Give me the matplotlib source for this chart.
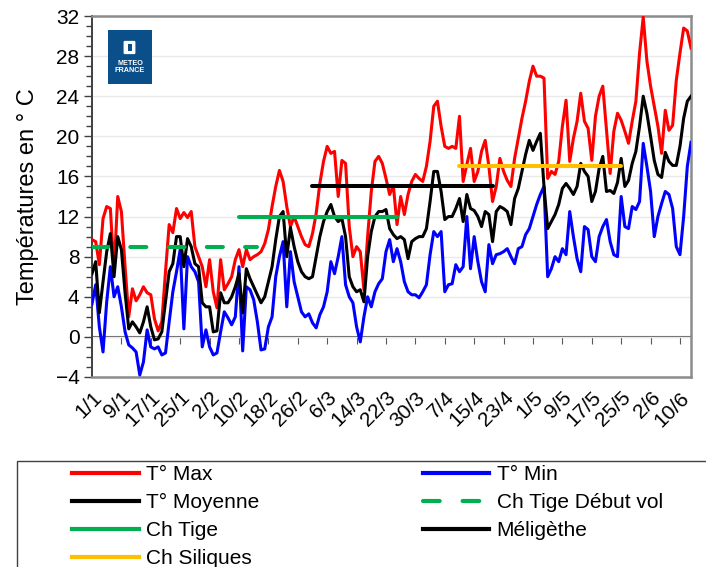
import matplotlib.pyplot as plt
import matplotlib.patches as mpatches
from matplotlib.lines import Line2D
from matplotlib.ticker import MultipleLocator
import numpy as np

plt.rcParams['font.family'] = ['Liberation Sans', 'DejaVu Sans']

# temperatures journalieres du 1/1 au 13/6
t_max = [9.7, 9.5, 7.2, 11.8, 13.0, 12.8, 6.5, 14.0, 12.5, 7.0,
         2.0, 4.8, 3.6, 4.2, 5.0, 4.4, 4.2, 1.8, 0.6, 1.5,
         6.5, 11.2, 10.4, 12.8, 11.8, 12.4, 11.9, 12.5, 9.0, 8.0,
         7.0, 5.0, 7.7, 4.5, 2.9, 7.7, 4.7, 5.3, 6.0, 7.7,
         8.7, 7.0, 8.7, 7.7, 8.0, 8.2, 8.5, 9.3, 10.7, 13.0,
         15.0, 16.6, 15.5, 13.0, 11.0, 12.0, 11.0, 10.0, 9.2, 9.0,
         10.3, 12.3, 15.3, 17.5, 19.0, 18.3, 18.5, 14.0, 17.6, 17.3,
         11.0, 8.0, 9.0, 8.5, 4.7, 10.0, 14.5, 17.5, 18.0, 17.3,
         15.8, 14.2, 15.1, 11.2, 14.0, 12.2, 14.2, 15.5, 16.2, 15.8,
         15.5, 17.0, 19.5, 23.0, 23.5, 21.0, 19.0, 18.8, 19.0, 18.8,
         22.0, 15.5, 17.2, 18.8, 15.5, 16.5, 18.5, 19.6, 17.0, 13.5,
         15.0, 17.8, 16.5, 15.6, 15.0, 17.8, 19.8, 21.8, 23.5, 25.5,
         27.0, 26.0, 26.0, 25.8, 15.8, 16.5, 16.2, 17.5, 21.0, 23.6,
         17.5, 19.8, 21.5, 24.3, 21.5, 20.8, 17.6, 22.0, 24.0, 25.0,
         20.6, 16.3, 20.5, 22.3, 21.6, 20.5, 19.3, 21.5, 23.5, 28.3,
         31.9, 27.5, 25.0, 23.0, 21.0, 18.3, 22.6, 20.6, 21.1, 25.6,
         28.3, 30.8, 30.5, 28.8]

t_min = [3.3, 5.2, 1.0, -1.5, 3.5, 7.0, 4.0, 5.0, 3.0, 0.5,
         -0.8, -1.1, -1.5, -3.8, -2.5, 0.7, -1.0, -1.2, -1.0, -1.8,
         -1.6, 1.5, 4.5, 6.5, 8.7, 0.8, 8.0, 7.0, 6.5, 5.5,
         -1.0, 0.7, -1.0, -1.8, -1.6, 0.5, 2.5, 1.9, 1.2, 2.0,
         7.0, -1.4, 5.0, 4.7, 3.7, 1.5, -1.3, -1.2, 1.0, 2.0,
         6.0, 8.0, 9.5, 3.0, 8.5, 5.5, 4.0, 2.5, 2.0, 2.3,
         1.4, 0.9, 2.2, 3.0, 4.5, 7.5, 6.3, 8.0, 10.0, 5.2,
         4.0, 3.4, 1.0, -0.5, 2.0, 4.0, 3.0, 4.5, 5.3, 5.8,
         8.5, 9.7, 7.5, 8.8, 7.5, 5.5, 4.5, 4.2, 4.2, 3.9,
         4.5, 5.2, 8.2, 10.5, 10.0, 10.5, 4.5, 5.2, 5.3, 7.2,
         6.5, 7.0, 12.0, 6.8, 10.0, 7.5, 5.5, 4.5, 9.2, 7.3,
         8.2, 8.3, 8.5, 8.8, 8.0, 7.3, 8.8, 9.0, 10.2, 10.8,
         12.0, 13.2, 14.2, 15.0, 6.0, 6.8, 8.0, 7.5, 8.8, 8.2,
         12.5, 10.0, 7.8, 6.5, 11.0, 10.7, 8.0, 7.5, 10.0, 11.0,
         11.7, 9.5, 8.2, 8.0, 14.0, 11.0, 10.8, 13.0, 12.7, 13.5,
         19.3, 17.0, 14.5, 10.0, 12.0, 13.3, 14.5, 14.2, 12.8, 9.0,
         8.2, 12.0, 17.0, 19.4]

t_moy = [6.3, 7.5, 2.4, 5.5, 8.5, 10.3, 6.0, 10.0, 8.7, 4.4,
         0.8, 1.5, 1.0, 0.4, 1.5, 3.0, 1.0, -0.3, -0.2, 0.5,
         3.5, 6.5, 7.3, 10.0, 10.0, 7.0, 9.8, 9.0, 7.3, 7.0,
         3.4, 3.0, 3.0, 0.5, 0.6, 4.4, 3.4, 3.4, 4.0, 5.0,
         6.3, 2.4, 6.8, 5.8, 5.0, 4.2, 3.4, 4.0, 5.5, 7.0,
         9.7, 12.0, 12.5, 8.0, 10.9, 9.0, 7.5, 6.5, 6.0, 5.8,
         6.0, 8.0, 10.0, 11.5, 12.5, 13.2, 12.0, 11.5, 11.8, 10.0,
         6.0, 5.0, 4.5, 4.7, 3.5, 8.0, 10.5, 12.0, 12.5, 12.5,
         12.7, 10.8, 10.2, 9.8, 10.0, 9.7, 7.8, 9.5, 9.8, 10.0,
         10.0, 10.8, 13.5, 16.5, 16.5, 14.5, 11.7, 12.0, 12.0, 12.8,
         13.8, 11.5, 14.2, 12.8, 12.6, 12.0, 11.0, 12.5, 12.2, 9.5,
         12.5, 13.0, 12.8, 12.5, 11.2, 13.8, 14.8, 16.5, 18.2, 19.6,
         18.6, 19.5, 20.3, 15.0, 10.8, 11.5, 12.2, 13.2, 14.8, 15.3,
         14.8, 14.2, 15.0, 17.3, 16.5, 16.0, 13.5, 14.5, 16.8, 18.0,
         14.5, 14.6, 14.3, 15.4, 17.8, 15.0, 15.6, 17.3, 18.5, 21.0,
         24.0, 22.3, 20.0, 17.6, 16.2, 15.9, 18.4, 17.5, 17.1, 17.1,
         19.0, 21.8, 23.5, 24.0]

tick_labels = ['1/1', '9/1', '17/1', '25/1', '2/2', '10/2', '18/2', '26/2',
               '6/3', '14/3', '22/3', '30/3', '7/4', '15/4', '23/4', '1/5',
               '9/5', '17/5', '25/5', '2/6', '10/6']

# seuils des stades : niveau, premier jour, dernier jour
stade_noms = ['Ch Tige Début vol', 'Ch Tige', 'Méligèthe', 'Ch Siliques']
stade_niveaux = [9, 12, 15, 17]
stade_debut = [0, 40, 60, 100]
stade_fin = [45, 83, 109, 144]
stade_couleurs = ['#00B050', '#00B050', '#000000', '#FFC000']

fig = plt.figure(figsize=(7.06, 5.67), dpi=100)
ax = fig.add_axes([92 / 706, 1 - 377 / 567, 599 / 706, 361 / 567])

jours = np.arange(len(t_max))
ax.plot(jours, t_max, color='#FF0000', lw=2.2, zorder=3)
ax.plot(jours, t_min, color='#0000FF', lw=2.2, zorder=3)
ax.plot(jours, t_moy, color='#000000', lw=2.2, zorder=3)

for i in range(len(stade_noms)):
    ls = (0, (4, 5.5)) if i == 0 else '-'
    ax.plot([stade_debut[i], stade_fin[i]], [stade_niveaux[i]] * 2,
            color=stade_couleurs[i], lw=2.9, ls=ls, solid_capstyle='round',
            dash_capstyle='round', zorder=4)

ax.set_xlim(0, len(t_max) - 1)
ax.set_ylim(-4, 32)
ax.set_yticks(np.arange(-4, 33, 4))
ax.yaxis.set_minor_locator(MultipleLocator(1))
ax.grid(axis='y', color='#EAEAEA', lw=1)
ax.set_axisbelow(True)
for s in ax.spines.values():
    s.set_color('#8C8C8C')
    s.set_linewidth(1.8)
ax.spines['left'].set_color('#404040')
ax.spines['left'].set_linewidth(1.4)
ax.tick_params(axis='y', which='both', direction='out', color='#404040',
               labelsize=15, width=1)
ax.tick_params(axis='y', which='major', length=6, pad=3)
ax.tick_params(axis='y', which='minor', length=4)
ax.set_ylabel('Températures en ° C', fontsize=17, labelpad=12)

ax.set_xticks(jours[::8][:len(tick_labels)])
ax.set_xticklabels(tick_labels, rotation=45, ha='right', va='top',
                   rotation_mode='anchor', fontsize=15)
ax.tick_params(axis='x', length=0, pad=8)

# axe horizontal a 0 avec graduations
sec = ax.secondary_xaxis((0 - (-4)) / 36)
sec.set_xticks(jours[::8][:len(tick_labels)])
sec.tick_params(axis='x', direction='out', length=5, color='#595959',
                labelbottom=False)
sec.spines['bottom'].set_color('#595959')
sec.spines['bottom'].set_linewidth(1.5)

# logo
fig.patches.append(mpatches.Rectangle((108 / 706, 1 - 84 / 567), 44 / 706, 54 / 567,
                                      transform=fig.transFigure, facecolor='#0B4F8A',
                                      edgecolor='none'))
fig.patches.append(mpatches.FancyBboxPatch((125 / 706, 1 - 53 / 567), 9 / 706, 11 / 567,
                                           boxstyle='round,pad=0.002',
                                           transform=fig.transFigure, facecolor='white',
                                           edgecolor='none'))
fig.patches.append(mpatches.Rectangle((127.5 / 706, 1 - 51 / 567), 4 / 706, 7 / 567,
                                      transform=fig.transFigure, facecolor='#0B4F8A',
                                      edgecolor='none'))
fig.text(130 / 706, 1 - 67 / 567, 'METEO\nFRANCE', color='white', fontsize=5.2,
         fontweight='bold', ha='center', va='center', linespacing=1.1)

# legende
fig.patches.append(mpatches.Rectangle((17 / 706, -0.05), 1.1, 0.05 + 1 - 461 / 567,
                                      transform=fig.transFigure, facecolor='none',
                                      edgecolor='#404040', lw=1))
h_max = Line2D([], [], color='#FF0000', lw=3)
h_min = Line2D([], [], color='#0000FF', lw=3)
h_moy = Line2D([], [], color='#000000', lw=3)
h_debut = Line2D([], [], color='#00B050', lw=3, ls=(0, (4, 5.5)), dash_capstyle='round')
h_tige = Line2D([], [], color='#00B050', lw=3)
h_meli = Line2D([], [], color='#000000', lw=3)
h_sil = Line2D([], [], color='#FFC000', lw=3)
handles = [h_max, h_moy, h_tige, h_sil, h_min, h_debut, h_meli]
labels = ['T° Max', 'T° Moyenne', stade_noms[1], stade_noms[3],
          'T° Min', stade_noms[0], stade_noms[2]]
fig.legend(handles, labels, loc='upper left', bbox_to_anchor=(72 / 706, 1 - 465 / 567),
           ncol=2, frameon=False, fontsize=15, handlelength=3.2, handletextpad=0.35,
           columnspacing=7.85, labelspacing=0.43, borderpad=0, borderaxespad=0)

fig.savefig('out.png', dpi=100)
